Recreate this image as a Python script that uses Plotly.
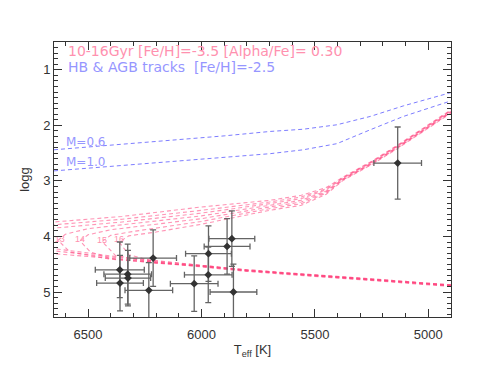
import plotly.graph_objects as go

# ---------------- data ----------------
star_teff = [5135, 6360, 6325, 6324, 6359, 6213, 6232, 5969, 5970, 6032, 5887, 5866, 5859]
star_logg = [2.68, 4.60, 4.68, 4.75, 4.84, 4.39, 4.97, 4.31, 4.69, 4.85, 4.18, 4.04, 5.00]
star_teff_err = [105, 108, 105, 100, 103, 103, 105, 101, 105, 105, 101, 101, 103]
star_logg_err = [0.65, 0.50, 0.54, 0.50, 0.50, 0.51, 0.50, 0.50, 0.50, 0.50, 0.50, 0.50, 0.50]

iso_ages = [10, 11, 12, 13, 14, 15, 16]
iso_teff = [
    [4900, 5200, 5500, 5800, 6000, 6200, 6400, 6650, 6800, 6950, 6800, 6650, 6350, 6000, 5700, 5560, 5450, 5375, 5243, 5137, 5000, 4900],
    [4900, 5200, 5500, 5800, 6000, 6200, 6400, 6650, 6780, 6850, 6750, 6650, 6350, 6000, 5700, 5560, 5450, 5375, 5243, 5137, 5000, 4900],
    [4900, 5200, 5500, 5800, 6000, 6200, 6400, 6650, 6720, 6750, 6680, 6650, 6350, 6000, 5700, 5560, 5450, 5375, 5243, 5137, 5000, 4900],
    [4900, 5200, 5500, 5800, 6000, 6200, 6400, 6580, 6632, 6600, 6500, 6350, 6000, 5700, 5560, 5450, 5375, 5243, 5137, 5000, 4900],
    [4900, 5200, 5500, 5800, 6000, 6200, 6400, 6490, 6535, 6500, 6400, 6000, 5700, 5560, 5450, 5375, 5243, 5137, 5000, 4900],
    [4900, 5200, 5500, 5800, 6000, 6200, 6380, 6438, 6400, 6300, 6000, 5700, 5560, 5450, 5375, 5243, 5137, 5000, 4900],
    [4900, 5200, 5500, 5800, 6000, 6200, 6320, 6363, 6320, 6200, 6000, 5700, 5560, 5450, 5375, 5243, 5137, 5000, 4900],
]
iso_logg = [
    [4.87, 4.78, 4.68, 4.60, 4.52, 4.44, 4.35, 4.22, 4.12, 4.00, 3.84, 3.74, 3.64, 3.47, 3.35, 3.26, 3.12, 2.93, 2.63, 2.36, 1.99, 1.72],
    [4.87, 4.78, 4.68, 4.60, 4.52, 4.45, 4.37, 4.26, 4.15, 4.02, 3.86, 3.79, 3.69, 3.53, 3.38, 3.29, 3.14, 2.94, 2.64, 2.37, 2.00, 1.73],
    [4.88, 4.79, 4.69, 4.61, 4.53, 4.46, 4.39, 4.31, 4.20, 4.04, 3.88, 3.85, 3.74, 3.58, 3.41, 3.32, 3.16, 2.95, 2.65, 2.38, 2.01, 1.74],
    [4.88, 4.79, 4.69, 4.61, 4.53, 4.47, 4.41, 4.28, 4.07, 3.96, 3.86, 3.79, 3.63, 3.44, 3.35, 3.18, 2.96, 2.66, 2.39, 2.02, 1.75],
    [4.89, 4.80, 4.70, 4.62, 4.54, 4.48, 4.40, 4.28, 4.08, 3.97, 3.88, 3.68, 3.47, 3.38, 3.20, 2.97, 2.67, 2.40, 2.03, 1.76],
    [4.89, 4.80, 4.70, 4.62, 4.54, 4.48, 4.34, 4.09, 3.98, 3.91, 3.73, 3.50, 3.41, 3.22, 2.98, 2.68, 2.41, 2.04, 1.77],
    [4.90, 4.81, 4.71, 4.63, 4.55, 4.46, 4.33, 4.10, 3.99, 3.92, 3.78, 3.53, 3.44, 3.24, 2.99, 2.69, 2.42, 2.05, 1.78],
]
age_label_text = ["13", "14", "15", "16"]
age_label_teff = [6625, 6535, 6438, 6363]
age_label_logg = [4.06, 4.06, 4.07, 4.06]

hb_labels = ["M=0.6", "M=1.0"]
hb_teff = [
    [6650, 6400, 6150, 5900, 5697, 5551, 5403, 5256, 5110, 4900],
    [6650, 6400, 6150, 5900, 5697, 5551, 5403, 5256, 5110, 4900],
]
hb_logg = [
    [2.44, 2.36, 2.28, 2.19, 2.11, 2.07, 1.99, 1.84, 1.65, 1.41],
    [2.82, 2.74, 2.66, 2.58, 2.51, 2.44, 2.33, 2.08, 1.84, 1.56],
]
hb_label_teff = [6597, 6597]
hb_label_logg = [2.32, 2.68]

x_ticks = [6500, 6000, 5500, 5000]
y_ticks = [1, 2, 3, 4, 5]

# ---------------- figure ----------------
FONT = "Liberation Sans, Arial, Helvetica, sans-serif"
WIDE = "DejaVu Sans, Verdana, sans-serif"
PINK = "rgba(255,60,120,0.55)"
BLUE = "rgb(125,125,255)"
PINK_TXT = "rgb(255,145,175)"
BLUE_TXT = "rgb(150,150,255)"

fig = go.Figure()

for t, g in zip(iso_teff, iso_logg):
    fig.add_trace(go.Scatter(x=t, y=g, mode="lines",
                             line=dict(color=PINK, width=1.1, dash="4px,3px"),
                             hoverinfo="skip", showlegend=False))

fig.add_trace(go.Scatter(x=age_label_teff, y=age_label_logg, mode="text",
                         text=age_label_text,
                         textfont=dict(family=FONT, size=9, color=PINK_TXT),
                         showlegend=False))

for t, g in zip(hb_teff, hb_logg):
    fig.add_trace(go.Scatter(x=t, y=g, mode="lines",
                             line=dict(color=BLUE, width=1, dash="4px,3px"),
                             hoverinfo="skip", showlegend=False))

fig.add_trace(go.Scatter(x=hb_label_teff, y=hb_label_logg, mode="text",
                         text=hb_labels, textposition="middle right",
                         textfont=dict(family=WIDE, size=12, color=BLUE_TXT),
                         showlegend=False))

fig.add_trace(go.Scatter(
    x=star_teff, y=star_logg, mode="markers",
    marker=dict(symbol="diamond", size=6, color="#333333"),
    error_x=dict(type="data", array=star_teff_err, color="rgb(100,100,100)", thickness=1.3, width=3),
    error_y=dict(type="data", array=star_logg_err, color="rgb(100,100,100)", thickness=1.3, width=3),
    showlegend=False))

fig.add_annotation(xref="paper", yref="paper", x=0.030, y=0.966, xanchor="left", yanchor="middle",
                   text="10-16Gyr [Fe/H]=-3.5 [Alpha/Fe]= 0.30", showarrow=False,
                   font=dict(family=WIDE, size=14, color=PINK_TXT))
fig.add_annotation(xref="paper", yref="paper", x=0.030, y=0.908, xanchor="left", yanchor="middle",
                   text="HB &amp; AGB tracks  [Fe/H]=-2.5", showarrow=False,
                   font=dict(family=WIDE, size=14, color=BLUE_TXT))

axis_common = dict(showline=True, linecolor="#333333", linewidth=1, mirror="ticks",
                   ticks="inside", tickcolor="#333333", showgrid=False, zeroline=False,
                   tickfont=dict(family=FONT, size=13, color="#333333"))

fig.update_xaxes(range=[6650, 4900], tickvals=x_ticks, ticklen=8, ticklabelstandoff=5,
                 minor=dict(dtick=100, ticklen=4, ticks="inside", tickcolor="#333333", showgrid=False),
                 title=dict(text="T<sub>eff</sub> [K]", font=dict(family=FONT, size=13, color="#333333"), standoff=4),
                 **axis_common)
fig.update_yaxes(range=[5.45, 0.5], tickvals=y_ticks, ticklen=8,
                 minor=dict(dtick=0.1, ticklen=4, ticks="inside", tickcolor="#333333", showgrid=False),
                 title=dict(text="logg", font=dict(family=FONT, size=13, color="#333333"), standoff=10),
                 **axis_common)

fig.update_layout(width=491, height=379, margin=dict(l=46, r=48, t=34, b=70),
                  plot_bgcolor="white", paper_bgcolor="white")

fig.write_html("out.html")
